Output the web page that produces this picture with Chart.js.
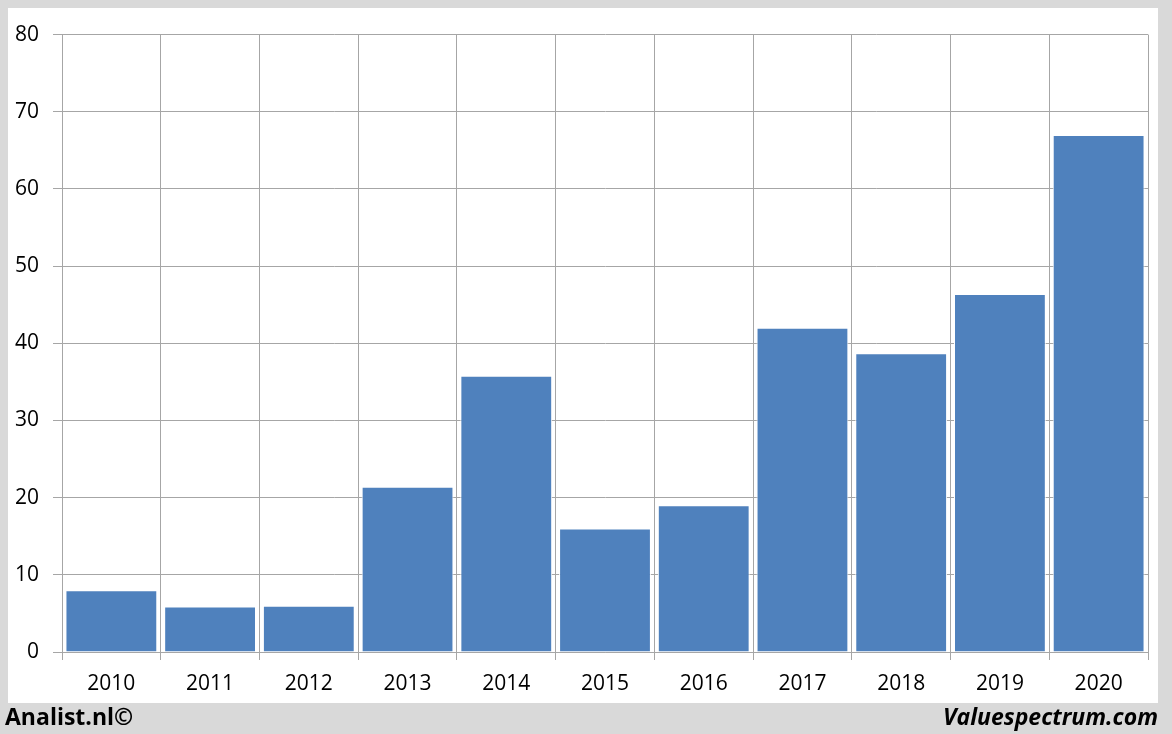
<!DOCTYPE html>
<html>
<head>
<meta charset="utf-8">
<script src="https://cdn.jsdelivr.net/npm/chart.js@4.4.1/dist/chart.umd.min.js"></script>
<style>
    html, body { margin: 0; padding: 0; }
    body { width: 1172px; height: 734px; background: #d9d9d9; position: relative; overflow: hidden; font-family: 'Open Sans', sans-serif; }
    #panel { position: absolute; left: 8px; top: 8px; width: 1150px; height: 695px; background: #fff; }
    #left-label { position: absolute; left: 5px; top: 700px; font-size: 23px; font-weight: bold; color: #000; }
    #right-label { position: absolute; right: 14px; top: 700px; font-size: 23px; font-weight: bold; font-style: italic; color: #000; }
</style>
</head>
<body>
<div id="panel"><canvas id="chart" width="1150" height="695"></canvas></div>
<div id="left-label">Analist.nl©</div>
<div id="right-label">Valuespectrum.com</div>
<script>
// Jahre und Werte
const years = ['2010', '2011', '2012', '2013', '2014', '2015', '2016', '2017', '2018', '2019', '2020'];
const values = [8.0, 5.9, 6.0, 21.4, 35.8, 16.0, 19.0, 42.0, 38.7, 46.4, 67.0];
const yTicks = [0, 10, 20, 30, 40, 50, 60, 70, 80];

document.addEventListener('DOMContentLoaded', () => {
    const ctx = document.getElementById('chart').getContext('2d');
    const gridColor = '#a6a6a6';

    new Chart(ctx, {
        type: 'bar',
        data: {
            labels: years,
            datasets: [{
                data: values,
                backgroundColor: '#4f81bd',
                borderColor: '#ffffff',
                borderWidth: 1,
                barPercentage: 0.93,
                categoryPercentage: 1.0
            }]
        },
        options: {
            responsive: false,
            animation: false,
            layout: { padding: { top: 25, right: 10, left: 0, bottom: 0 } },
            plugins: {
                legend: { display: false },
                tooltip: { enabled: false }
            },
            scales: {
                x: {
                    grid: { offset: true, color: gridColor, tickLength: 8, lineWidth: 1 },
                    border: { color: gridColor },
                    ticks: { color: '#000', font: { family: 'Open Sans', size: 21 }, padding: 11, maxRotation: 0 },
                    afterFit: (scale) => { scale.height = 51; }
                },
                y: {
                    min: 0,
                    max: 80,
                    afterBuildTicks: (scale) => { scale.ticks = yTicks.map(v => ({ value: v })); },
                    grid: { color: gridColor, tickLength: 9, lineWidth: 1 },
                    border: { color: gridColor },
                    ticks: { color: '#000', font: { family: 'Open Sans', size: 21 }, padding: 14 },
                    afterFit: (scale) => { scale.width = 54; }
                }
            }
        }
    });
});
</script>
</body>
</html>
